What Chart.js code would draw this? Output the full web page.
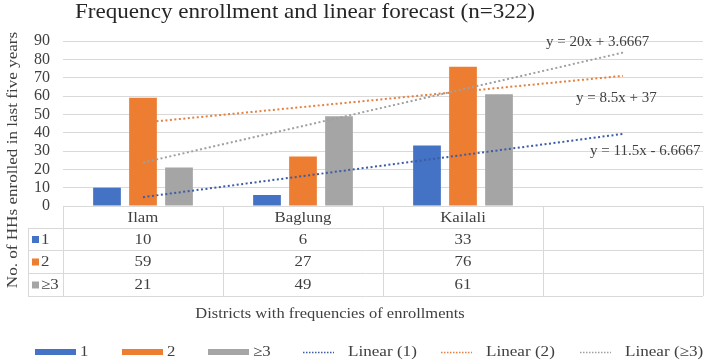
<!DOCTYPE html>
<html>
<head>
<meta charset="utf-8">
<script src="https://cdn.jsdelivr.net/npm/chart.js@4/dist/chart.umd.min.js"></script>
<style>
  html, body { margin: 0; padding: 0; background: #fff; }
  #wrap { width: 708px; height: 364px; }
</style>
</head>
<body>
<div id="wrap"><canvas id="chart" width="708" height="364"></canvas></div>
<script>
// values
const districts = ['Ilam', 'Baglung', 'Kailali'];
const categories = [...districts, ''];           // 4th slot is the forecast period
const seriesNames = ['1', '2', '\u22653'];
const freq1 = [10, 6, 33];
const freq2 = [59, 27, 76];
const freq3 = [21, 49, 61];
// linear trend values at the 4 category slots (from the equations shown)
const trend1 = [4.83, 16.33, 27.83, 39.33];
const trend2 = [45.5, 54, 62.5, 71];
const trend3 = [23.67, 43.67, 63.67, 83.67];
const trendNames = ['Linear (1)', 'Linear (2)', 'Linear (\u22653)'];
const trendEq = ['y = 11.5x - 6.6667', 'y = 8.5x + 37', 'y = 20x + 3.6667'];
const yMax = 90;
const yStep = 10;

const barColors = ['#4472c4', '#ed7d31', '#a5a5a5'];
const trendColors = ['#3b5ca6', '#e5803f', '#a0a0a0'];
const serif = '"Liberation Serif", "DejaVu Serif", serif';
const textColor = '#404040';
const lineColor = '#d9d9d9';

const barSets = [freq1, freq2, freq3].map(function (d, i) {
    return {
        type: 'bar',
        label: seriesNames[i],
        data: d.concat([null]),
        backgroundColor: barColors[i],
        categoryPercentage: 0.675,
        barPercentage: 0.77,
        order: 2
    }
});
const trendSets = [trend1, trend2, trend3].map(function (d, i) {
    return {
        type: 'line',
        label: trendNames[i],
        data: d,
        borderColor: trendColors[i],
        borderWidth: 2,
        borderDash: [2, 2.5],
        pointRadius: 0,
        fill: false,
        order: 1
    }
});

// the source picture is a bit wide, so text is stretched sideways
function wideText(ctx, text, x, y, sx) {
    ctx.save();
    ctx.translate(x, y);
    ctx.scale(sx, 1);
    ctx.fillText(text, 0, 0);
    ctx.restore();
}

// table, titles, legend and equation labels
const extras = {
    id: 'extras',
    afterDraw: function (chart) {
        var ctx = chart.ctx;
        var x = chart.scales.x;
        var area = chart.chartArea;
        var rows = [freq1, freq2, freq3];
        var tableLeft = 28;
        var rowY = [area.bottom, 228, 250, 273, 296];
        var colW = (area.right - area.left) / categories.length;
        ctx.save();

        // title
        ctx.fillStyle = '#262626';
        ctx.font = '21px ' + serif;
        ctx.textAlign = 'center';
        ctx.textBaseline = 'alphabetic';
        wideText(ctx, 'Frequency enrollment and linear forecast (n=322)', 305, 18, 1.1);

        // y title
        ctx.save();
        ctx.translate(13, 160);
        ctx.rotate(-Math.PI / 2);
        ctx.fillStyle = textColor;
        ctx.font = '15px ' + serif;
        ctx.textBaseline = 'middle';
        wideText(ctx, 'No. of HHs enrolled in last five years', 0, 0, 1.14);
        ctx.restore();

        // data table grid
        ctx.strokeStyle = lineColor;
        ctx.lineWidth = 1;
        ctx.beginPath();
        ctx.moveTo(area.left, rowY[0] + 0.5);
        ctx.lineTo(area.right, rowY[0] + 0.5);
        for (var r = 1; r < rowY.length; r++) {
            ctx.moveTo(tableLeft, rowY[r] + 0.5);
            ctx.lineTo(area.right, rowY[r] + 0.5);
        }
        ctx.moveTo(tableLeft + 0.5, rowY[1]);
        ctx.lineTo(tableLeft + 0.5, rowY[4]);
        for (var c = 0; c <= categories.length; c++) {
            var cx = Math.round(area.left + c * colW) + 0.5;
            ctx.moveTo(cx, rowY[0]);
            ctx.lineTo(cx, rowY[4]);
        }
        ctx.stroke();

        ctx.fillStyle = textColor;
        ctx.font = '15px ' + serif;
        ctx.textAlign = 'center';
        ctx.textBaseline = 'middle';
        districts.forEach(function (d, i) {
            wideText(ctx, d, x.getPixelForValue(i), (rowY[0] + rowY[1]) / 2 + 1, 1.12);
        });
        rows.forEach(function (vals, r) {
            var cy = (rowY[r + 1] + rowY[r + 2]) / 2 + 1;
            vals.forEach(function (v, i) {
                wideText(ctx, String(v), x.getPixelForValue(i), cy, 1.12);
            });
            ctx.fillStyle = barColors[r];
            ctx.fillRect(32, cy - 4, 7, 7);
            ctx.fillStyle = textColor;
            ctx.textAlign = 'left';
            wideText(ctx, seriesNames[r], 41, cy, 1.12);
            ctx.textAlign = 'center';
        });

        // x title
        wideText(ctx, 'Districts with frequencies of enrollments', 330, 314, 1.1);

        // trend equations
        ctx.font = '15px ' + serif;
        ctx.textAlign = 'left';
        ctx.fillText(trendEq[2], 546, 42);
        ctx.fillText(trendEq[1], 576, 98);
        ctx.fillText(trendEq[0], 590, 151);

        // legend
        var ly = 352;
        var barKeys = [35, 122, 208];
        barKeys.forEach(function (lx, i) {
            ctx.fillStyle = barColors[i];
            ctx.fillRect(lx, ly - 3, 41, 6);
            ctx.fillStyle = textColor;
            wideText(ctx, seriesNames[i], lx + 45, ly, 1.12);
        });
        var lineKeys = [303, 441, 580];
        lineKeys.forEach(function (lx, i) {
            ctx.strokeStyle = trendColors[i];
            ctx.lineWidth = 1.5;
            ctx.setLineDash([1.5, 1.5]);
            ctx.beginPath();
            ctx.moveTo(lx, ly + 0.5);
            ctx.lineTo(lx + 31, ly + 0.5);
            ctx.stroke();
            ctx.setLineDash([]);
            ctx.fillStyle = textColor;
            wideText(ctx, trendNames[i], lx + 45, ly, 1.14);
        });
        ctx.restore();
    }
};

new Chart(document.getElementById('chart'), {
    data: {
        labels: categories,
        datasets: barSets.concat(trendSets)
    },
    options: {
        responsive: false,
        animation: false,
        layout: { padding: { top: 41, right: 5, bottom: 158, left: 0 } },
        plugins: {
            legend: { display: false },
            title: { display: false },
            tooltip: { enabled: false }
        },
        scales: {
            x: { display: false, offset: true },
            y: {
                min: 0,
                max: yMax,
                ticks: {
                    stepSize: yStep,
                    autoSkip: false,
                    padding: 13,
                    color: textColor,
                    font: { family: serif, size: 16 }
                },
                grid: { color: lineColor, drawTicks: false },
                border: { display: false },
                afterFit: function (s) {
                    s.width = 63;
                    s.paddingTop = 0;
                    s.paddingBottom = 0;
                }
            }
        }
    },
    plugins: [extras]
});
</script>
</body>
</html>
